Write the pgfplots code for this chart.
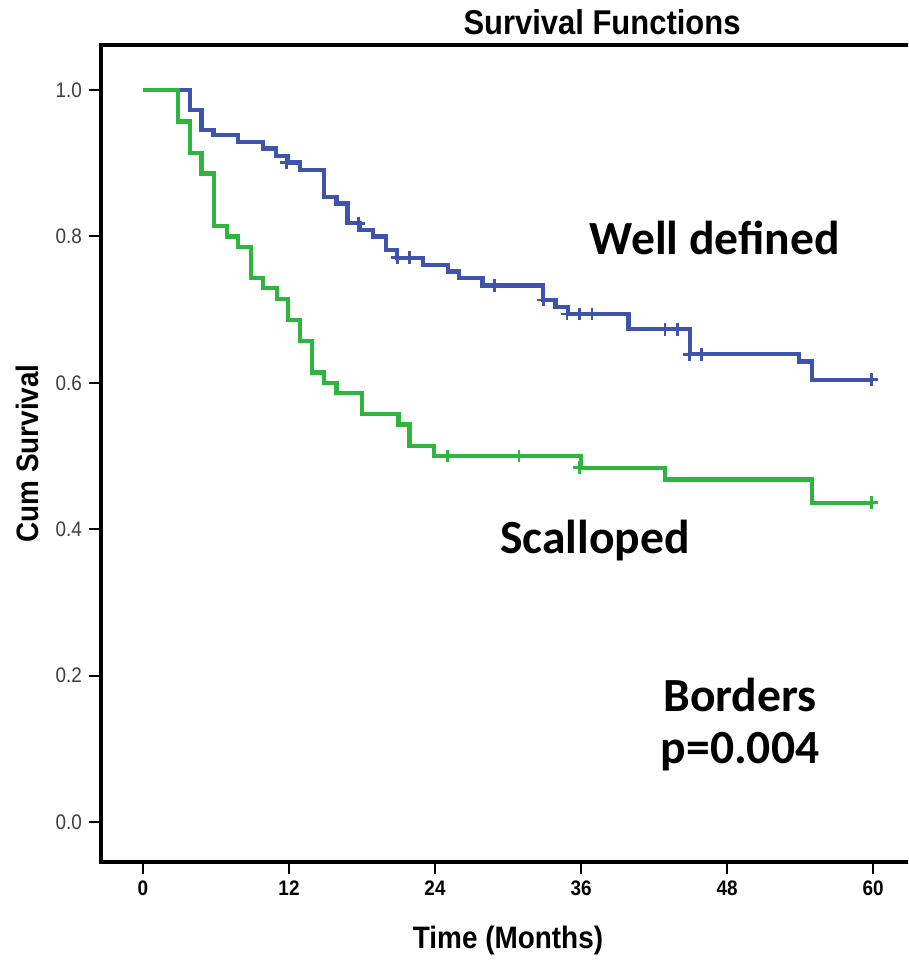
\documentclass[border=0pt]{standalone}
\usepackage{pgfplots}
\pgfplotsset{compat=1.18}
\usepackage{fontspec}
\setmainfont{Liberation Sans}
\newfontfamily\spss[FakeStretch=0.9]{Liberation Sans}
\newfontfamily\spsstitle[FakeStretch=0.9]{Liberation Sans}
\newfontfamily\calib{Carlito}
\definecolor{kmblue}{RGB}{62,84,172}
\definecolor{kmgreen}{RGB}{44,182,62}
\definecolor{ticklab}{RGB}{60,60,60}
\begin{document}
\begin{tikzpicture}
\path[use as bounding box] (-50.5pt,-49.5pt) rectangle (403.5pt,431pt);
\clip (-50.5pt,-49.5pt) rectangle (403.5pt,431pt);
\begin{axis}[
  at={(0pt,0pt)}, anchor=south west,
  scale only axis, width=407pt, height=408.5pt,
  xmin=-3.452, xmax=63.452, ymin=-0.0546, ymax=1.0615,
  xtick={0,12,24,36,48,60}, ytick={0,0.2,0.4,0.6,0.8,1.0},
  xtick pos=bottom, ytick pos=left, tick align=outside,
  major tick length=6pt,
  every tick/.style={black, line width=1pt},
  axis line style={line width=2pt},
  /pgf/number format/assume math mode=true,
  y tick label style={/pgf/number format/fixed, /pgf/number format/fixed zerofill, /pgf/number format/precision=1,
     font=\spss\fontsize{10.5}{12}\selectfont, text=ticklab},
  x tick label style={font=\spss\bfseries\fontsize{10.5}{12}\selectfont, text=black},
  xlabel={Time (Months)}, ylabel={Cum Survival},
  xlabel style={at={(axis description cs:0.5,-0.0955)}, anchor=center, font=\spss\bfseries\fontsize{15.5}{18}\selectfont},
  ylabel style={at={(axis description cs:-0.0909,0.5)}, anchor=center, font=\spss\bfseries\fontsize{15.5}{18}\selectfont},
  clip=false,
]
\addplot[kmblue, line width=2.1pt, const plot] coordinates {
(0,1)(3.86,0.973)(4.8,0.945)(5.8,0.939)(7.8,0.929)(9.86,0.920)(10.9,0.910)(11.9,0.901)(12.9,0.891)(14.9,0.854)(15.9,0.845)(16.8,0.818)(17.8,0.809)(18.9,0.800)(20.0,0.781)(20.9,0.771)(23.0,0.761)(25.1,0.752)(26.0,0.743)(27.9,0.733)(32.9,0.713)(33.9,0.704)(34.9,0.694)(39.9,0.673)(44.96,0.639)(53.9,0.629)(55.0,0.604)(60,0.604)};
\addplot[kmgreen, line width=2.1pt, const plot] coordinates {
(0,1)(2.85,0.957)(3.86,0.914)(4.8,0.886)(5.86,0.814)(6.9,0.800)(7.8,0.786)(8.9,0.743)(9.86,0.729)(11.0,0.714)(11.9,0.686)(12.9,0.657)(13.9,0.614)(14.9,0.600)(15.9,0.586)(18.0,0.557)(21.0,0.543)(21.9,0.514)(23.9,0.500)(36.0,0.484)(42.9,0.468)(55.0,0.436)(60,0.436)};
\addplot[kmblue, only marks, mark=+, mark size=3.2pt, mark options={line width=1.4pt}] coordinates {
(11.8,0.901)(17.7,0.818)(20.9,0.771)(21.9,0.771)(28.9,0.733)(32.9,0.713)(34.85,0.694)(35.9,0.694)(36.9,0.694)(42.9,0.673)(43.9,0.673)(44.9,0.639)(45.9,0.639)(59.9,0.604)};
\addplot[kmgreen, only marks, mark=+, mark size=3.2pt, mark options={line width=1.4pt}] coordinates {
(25,0.5)(30.9,0.5)(35.9,0.484)(59.9,0.436)};
\node[font=\calib\bfseries\fontsize{23.8}{28}\selectfont] at (axis cs:47.0,0.798) {Well defined};
\node[font=\calib\bfseries\fontsize{23.8}{28}\selectfont] at (axis cs:37.15,0.385) {Scalloped};
\node[font=\calib\bfseries\fontsize{23.8}{28}\selectfont] at (axis cs:49.07,0.1735) {Borders};
\node[font=\calib\bfseries\fontsize{23.8}{28}\selectfont] at (axis cs:49.07,0.0956) {p=0.004};
\end{axis}
\node[font=\spsstitle\bfseries\fontsize{17.2}{20}\selectfont] at (250.5pt,420pt) {Survival Functions};
\end{tikzpicture}
\end{document}
